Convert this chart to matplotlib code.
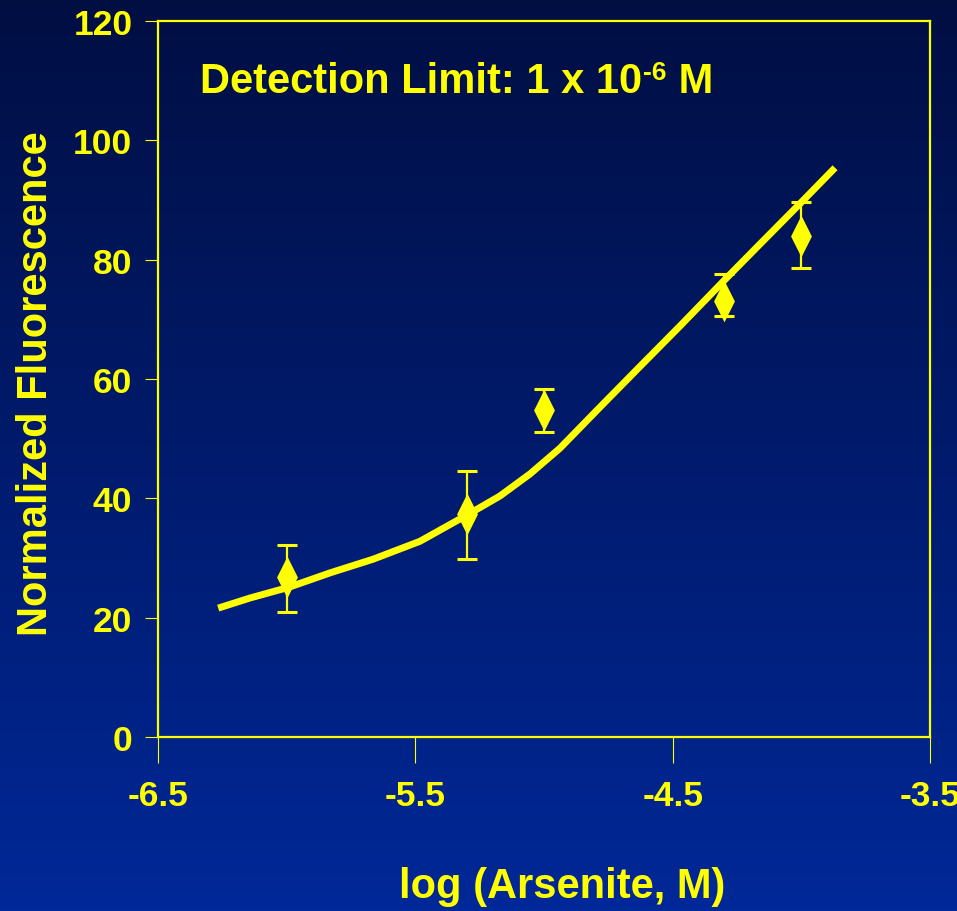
import numpy as np
import matplotlib
matplotlib.use("Agg")
import matplotlib.pyplot as plt
from matplotlib.path import Path

plt.rcParams['font.family'] = ['Liberation Sans', 'DejaVu Sans']
plt.rcParams['font.weight'] = 'bold'

# ---- data ----
pt_x = [-6.0, -5.3, -5.0, -4.3, -4.0]
pt_y = [26.8, 37.4, 54.8, 73.1, 83.9]
err_lo = [20.9, 29.8, 51.2, 70.5, 78.6]
err_hi = [32.1, 44.6, 58.4, 77.6, 89.7]

curve_x = [-6.266, -6.142, -5.991, -5.832, -5.664, -5.482, -5.291, -5.171,
           -5.054, -4.938, -4.782, -4.627, -4.471, -4.289, -4.161, -4.005, -3.869]
curve_y = [21.6, 23.3, 25.1, 27.5, 29.8, 32.8, 37.4, 40.4,
           44.1, 48.4, 55.3, 62.1, 68.9, 77.0, 82.6, 89.4, 95.4]

x_ticks = [-6.5, -5.5, -4.5, -3.5]
x_labels = ['-6.5', '-5.5', '-4.5', '-3.5']
y_ticks = [0, 20, 40, 60, 80, 100, 120]
y_labels = ['0', '20', '40', '60', '80', '100', '120']

YEL = '#FFFF00'
W, H = 957, 912

fig = plt.figure(figsize=(W / 100, H / 100), dpi=100)

# gradient background
bg = fig.add_axes([0, 0, 1, 1], zorder=-10)
top = np.array([0, 14, 66]) / 255.0
bot = np.array([0, 40, 152]) / 255.0
t = np.linspace(0, 1, 256)[:, None]
grad = (top[None, :] * (1 - t) + bot[None, :] * t)[:, None, :]
bg.imshow(grad, aspect='auto', extent=[0, 1, 0, 1], origin='upper')
bg.axis('off')

ax = fig.add_axes([158 / W, 1 - 738 / H, (930 - 158) / W, (738 - 22) / H])
ax.patch.set_alpha(0)

ax.set_xlim(-6.5, -3.5)
ax.set_ylim(0, 120)

for s in ax.spines.values():
    s.set_color(YEL)
    s.set_linewidth(1.6)

ax.set_xticks(x_ticks)
ax.set_xticklabels(x_labels)
ax.set_yticks(y_ticks)
ax.set_yticklabels(y_labels)
ax.tick_params(axis='x', direction='out', length=19, width=0.8, pad=11,
               colors=YEL, labelsize=25.5)
ax.tick_params(axis='y', direction='out', length=9.4, width=0.8, pad=9,
               colors=YEL, labelsize=25.5)
for lab in ax.get_xticklabels() + ax.get_yticklabels():
    lab.set_fontweight('bold')

# fitted curve
ax.plot(curve_x, curve_y, color=YEL, lw=5, solid_joinstyle='round',
        solid_capstyle='butt', zorder=3)

# error bars
yerr = [np.array(pt_y) - np.array(err_lo), np.array(err_hi) - np.array(pt_y)]
ax.errorbar(pt_x, pt_y, yerr=yerr, fmt='none', ecolor=YEL, elinewidth=1.6,
            capsize=7, capthick=2.2, zorder=4)

diamond = Path([(0, 1), (0.5, 0), (0, -1), (-0.5, 0), (0, 1)],
               [Path.MOVETO, Path.LINETO, Path.LINETO, Path.LINETO, Path.CLOSEPOLY])
ax.plot(pt_x, pt_y, linestyle='none', marker=diamond, markersize=30,
        color=YEL, markeredgewidth=0, zorder=5)

# title with superscript
renderer = fig.canvas.get_renderer()
base_y = 1 - 93 / H
t1 = fig.text(200 / W, base_y, 'Detection Limit: 1 x 10', color=YEL,
              fontsize=30, fontweight='bold', va='baseline', ha='left')
bb = t1.get_window_extent(renderer=renderer)
t2 = fig.text((bb.x1 + 1) / W, base_y + 13 / H, '-6', color=YEL,
              fontsize=19, fontweight='bold', va='baseline', ha='left')
bb2 = t2.get_window_extent(renderer=renderer)
fig.text(bb2.x1 / W, base_y, ' M', color=YEL, fontsize=30, fontweight='bold',
         va='baseline', ha='left')

# axis labels
fig.text(562 / W, 1 - 887 / H, 'log (Arsenite, M)', color=YEL, fontsize=30,
         fontweight='bold', ha='center', va='center')
fig.text(36 / W, 1 - 383.5 / H, 'Normalized Fluorescence', color=YEL,
         fontsize=30, fontweight='bold', ha='center', va='center', rotation=90)

fig.savefig('out.png', dpi=100)
